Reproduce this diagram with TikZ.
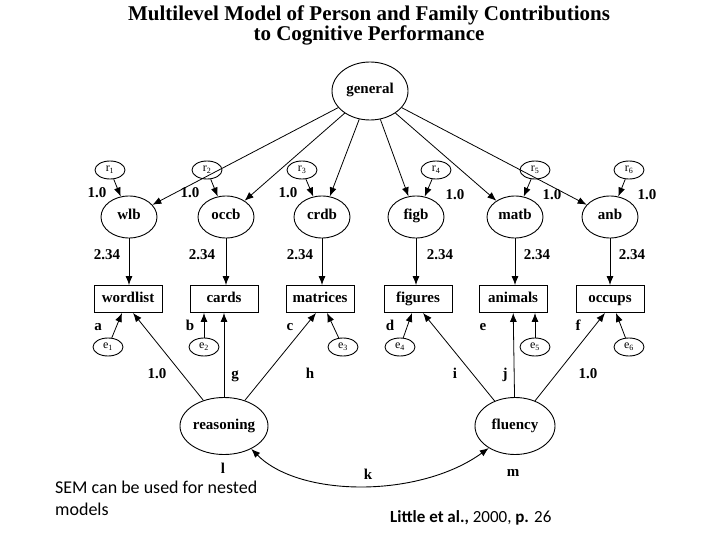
\documentclass[tikz,border=0pt]{standalone}
\usepackage{fontspec}
\setmainfont{Liberation Serif}
\newfontfamily\calib{Carlito}
\usetikzlibrary{shapes.geometric,arrows.meta}
\begin{document}
\begin{tikzpicture}[x=1pt,y=-1pt,
  every node/.style={font=\fontsize{15}{17}\selectfont\bfseries},
  lat/.style={draw,ellipse,line width=0.9pt,inner sep=0pt,text height=9pt,text depth=3pt},
  big/.style={lat,minimum width=56pt,minimum height=42pt},
  small/.style={draw,ellipse,line width=0.9pt,inner sep=0pt,minimum width=30pt,minimum height=18pt,font=\fontsize{12}{13}\selectfont},
  obs/.style={draw,rectangle,line width=0.9pt,minimum width=68pt,minimum height=27pt,inner sep=0pt,text height=9pt,text depth=3pt},
  lbl/.style={inner sep=0pt,text height=9pt,text depth=3pt},
  arr/.style={line width=0.8pt,-{Latex[length=9pt,width=7pt]}},
  dbl/.style={line width=0.9pt,{Latex[length=9pt,width=7pt]}-{Latex[length=9pt,width=7pt]}},
]
\fill[white] (0,0) rectangle (720,540);
\useasboundingbox (0,0) rectangle (720,540);

\node[font=\fontsize{21}{20}\selectfont\bfseries, align=center] (title) at (369,25)
  {Multilevel Model of Person and Family Contributions\\to Cognitive Performance};

\node[lat,minimum width=76pt,minimum height=58pt] (general) at (370,91) {general};

% residuals r
\node[small] (r1) at (110,170) {r\textsubscript{1}};
\node[small] (r2) at (207,170) {r\textsubscript{2}};
\node[small] (r3) at (302,170) {r\textsubscript{3}};
\node[small] (r4) at (436,170) {r\textsubscript{4}};
\node[small] (r5) at (535,170) {r\textsubscript{5}};
\node[small] (r6) at (629,170) {r\textsubscript{6}};

% latent b
\node[big] (wlb) at (129,217) {wlb};
\node[big] (occb) at (226,217) {occb};
\node[big] (crdb) at (322,217) {crdb};
\node[big] (figb) at (416,217) {figb};
\node[big] (matb) at (515,217) {matb};
\node[big] (anb) at (610,217) {anb};

% observed
\node[obs] (wordlist) at (128,299) {wordlist};
\node[obs] (cards) at (224,299) {cards};
\node[obs] (matrices) at (320,299) {matrices};
\node[obs] (figures) at (418,299) {figures};
\node[obs] (animals) at (513,299) {animals};
\node[obs] (occups) at (610,299) {occups};

% errors e
\node[small] (e1) at (108,347) {e\textsubscript{1}};
\node[small] (e2) at (204,347) {e\textsubscript{2}};
\node[small] (e3) at (343,347) {e\textsubscript{3}};
\node[small] (e4) at (400,347) {e\textsubscript{4}};
\node[small] (e5) at (535,347) {e\textsubscript{5}};
\node[small] (e6) at (629,347) {e\textsubscript{6}};

% second-order
\node[lat,minimum width=76pt,minimum height=57pt] (reasoning) at (224,426) {reasoning};
\node[lat,minimum width=80pt,minimum height=57pt] (fluency) at (515,426) {fluency};

% general -> b
\foreach \b in {wlb,occb,crdb,figb,matb,anb} \draw[arr] (general) -- (\b);
% r -> b
\draw[arr] (r1) -- (wlb);
\draw[arr] (r2) -- (occb);
\draw[arr] (r3) -- (crdb);
\draw[arr] (r4) -- (figb);
\draw[arr] (r5) -- (matb);
\draw[arr] (r6) -- (anb);
% b -> obs
\draw[arr] (wlb.south) -- (wlb.south |- wordlist.north);
\draw[arr] (occb.south) -- (occb.south |- cards.north);
\draw[arr] (crdb.south) -- (crdb.south |- matrices.north);
\draw[arr] (figb.south) -- (figb.south |- figures.north);
\draw[arr] (matb.south) -- (matb.south |- animals.north);
\draw[arr] (anb.south) -- (anb.south |- occups.north);
% e -> obs
\draw[arr] (e1) -- ([xshift=-6pt]wordlist.south);
\draw[arr] (e2) -- (e2 |- cards.south);
\draw[arr] (e3) -- ([xshift=7pt]matrices.south);
\draw[arr] (e4) -- ([xshift=-6pt]figures.south);
\draw[arr] (e5) -- (e5 |- animals.south);
\draw[arr] (e6) -- ([xshift=6pt]occups.south);
% second order -> obs
\draw[arr] (reasoning) -- ([xshift=5pt]wordlist.south);
\draw[arr] (reasoning) -- (cards);
\draw[arr] (reasoning) -- ([xshift=-4pt]matrices.south);
\draw[arr] (fluency) -- ([xshift=5pt]figures.south);
\draw[arr] (fluency) -- (animals);
\draw[arr] (fluency) -- ([xshift=-5pt]occups.south);
% covariance
\draw[dbl] (reasoning.-40) .. controls (300,498) and (420,498) .. (fluency.-140);

% labels
\node[lbl] (l1) at (97,195) {1.0};
\node[lbl] (l2) at (190,195) {1.0};
\node[lbl] (l3) at (288,195) {1.0};
\node[lbl] (l4) at (455,197) {1.0};
\node[lbl] (l5) at (552,197) {1.0};
\node[lbl] (l6) at (647,197) {1.0};
\node[lbl] (s1) at (107,256) {2.34};
\node[lbl] (s2) at (202,256) {2.34};
\node[lbl] (s3) at (300,256) {2.34};
\node[lbl] (s4) at (440,256) {2.34};
\node[lbl] (s5) at (537,256) {2.34};
\node[lbl] (s6) at (632,256) {2.34};
\node[lbl] (la) at (98,327) {a};
\node[lbl] (lb) at (190,327) {b};
\node[lbl] (lc) at (290,327) {c};
\node[lbl] (ld) at (390,327) {d};
\node[lbl] (le) at (483,327) {e};
\node[lbl] (lf) at (578,327) {f};
\node[lbl] (lr) at (157,375) {1.0};
\node[lbl] (lg) at (235,375) {g};
\node[lbl] (lh) at (310,375) {h};
\node[lbl] (li) at (455,375) {i};
\node[lbl] (lj) at (505,375) {j};
\node[lbl] (lm1) at (588,375) {1.0};
\node[lbl] (ll) at (223,470) {l};
\node[lbl] (lk) at (368,476) {k};
\node[lbl] (lm) at (513,473) {m};

\node[font=\calib\fontsize{18}{22}\selectfont, anchor=north west, align=left, inner sep=0pt] (note) at (55,481)
  {SEM can be used for nested\\models};
\node[font=\calib\fontsize{17}{18}\selectfont, anchor=west, inner sep=0pt] (cite) at (390,518)
  {\textbf{Little et al.,} 2000, \textbf{p.} 26};
\end{tikzpicture}
\end{document}
